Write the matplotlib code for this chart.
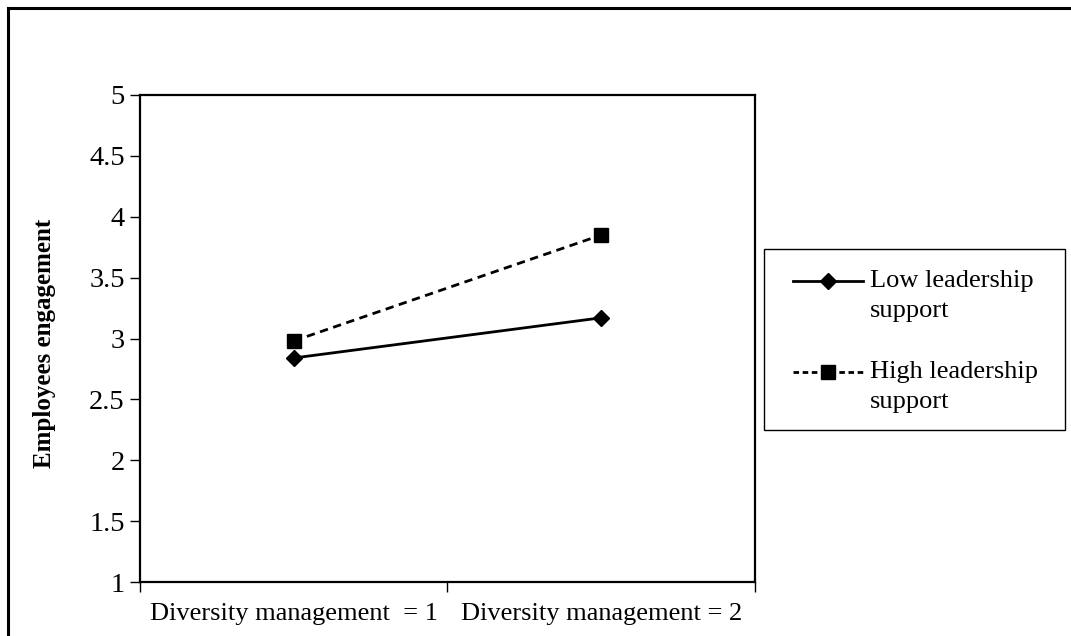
import matplotlib
matplotlib.use("Agg")
import matplotlib.pyplot as plt
from matplotlib.lines import Line2D
from matplotlib.patches import Rectangle

categories = ["Diversity management  = 1", "Diversity management = 2"]
low_support = [2.84, 3.17]
high_support = [2.98, 3.85]
series_labels = ["Low leadership\nsupport", "High leadership\nsupport"]
y_ticks = [1, 1.5, 2, 2.5, 3, 3.5, 4, 4.5, 5]
y_tick_labels = ["1", "1.5", "2", "2.5", "3", "3.5", "4", "4.5", "5"]

plt.rcParams['font.family'] = ['Liberation Serif', 'DejaVu Serif']

W, H = 1071, 636
fig = plt.figure(figsize=(W / 100, H / 100), dpi=100)
ax = fig.add_axes([140 / W, 1 - 582 / H, (755 - 140) / W, (582 - 95) / H])

x = [1, 2]
styles = [dict(linestyle='-', marker='D', markersize=8.5),
          dict(linestyle=(0, (3, 2)), marker='s', markersize=10)]
legend_dash = ['-', (0, (2, 1.3))]
for vals, st, lab in zip([low_support, high_support], styles, series_labels):
    ax.plot(x, vals, color='black', linewidth=2, label=lab, **st)

ax.set_xlim(0.5, 2.5)
ax.set_ylim(1, 5)
ax.set_yticks(y_ticks)
ax.set_yticklabels(y_tick_labels)
ax.set_xticks([0.5, 1.5, 2.5])
ax.set_xticklabels([])
ax.set_xticks(x, minor=True)
ax.set_xticklabels(categories, minor=True)
ax.tick_params(axis='x', which='minor', length=0, labelsize=19, pad=15)
ax.tick_params(axis='x', which='major', length=7, width=1, direction='out')
ax.tick_params(axis='y', which='major', length=7, width=1, direction='out',
               labelsize=20.5, pad=4)
for s in ax.spines.values():
    s.set_linewidth(1.6)
    s.set_color('black')

ax.set_ylabel("Employees engagement", fontsize=18, fontweight='bold')
ax.yaxis.set_label_coords((56 - 140) / 615, 0.49)

# legend drawn in figure pixel coordinates
def fx(px):
    return px / W

def fy(py):
    return 1 - py / H

fig.add_artist(Rectangle((fx(764), fy(430)), fx(1065) - fx(764), fy(249) - fy(430),
                         transform=fig.transFigure, fill=False,
                         edgecolor='black', linewidth=1.0))
row_y = [281, 372]
for st, ls, lab, ry in zip(styles, legend_dash, series_labels, row_y):
    fig.add_artist(Line2D([fx(793), fx(863)], [fy(ry), fy(ry)],
                          transform=fig.transFigure, color='black',
                          linewidth=2, linestyle=ls))
    fig.add_artist(Line2D([fx(828)], [fy(ry)], transform=fig.transFigure,
                          color='black', marker=st['marker'],
                          markersize=st['markersize'], linestyle='none'))
    first, second = lab.split("\n")
    fig.text(fx(870), fy(ry), first, fontsize=19, va='center', ha='left')
    fig.text(fx(870), fy(ry + 30), second, fontsize=19, va='center', ha='left')

# outer frame (top and left edges visible)
fig.add_artist(Line2D([8 / W, 1.0], [1 - 8 / H, 1 - 8 / H],
                      transform=fig.transFigure, color='black', linewidth=2.2))
fig.add_artist(Line2D([8 / W, 8 / W], [0.0, 1 - 8 / H],
                      transform=fig.transFigure, color='black', linewidth=2.2))

fig.savefig("out.png", dpi=100)
